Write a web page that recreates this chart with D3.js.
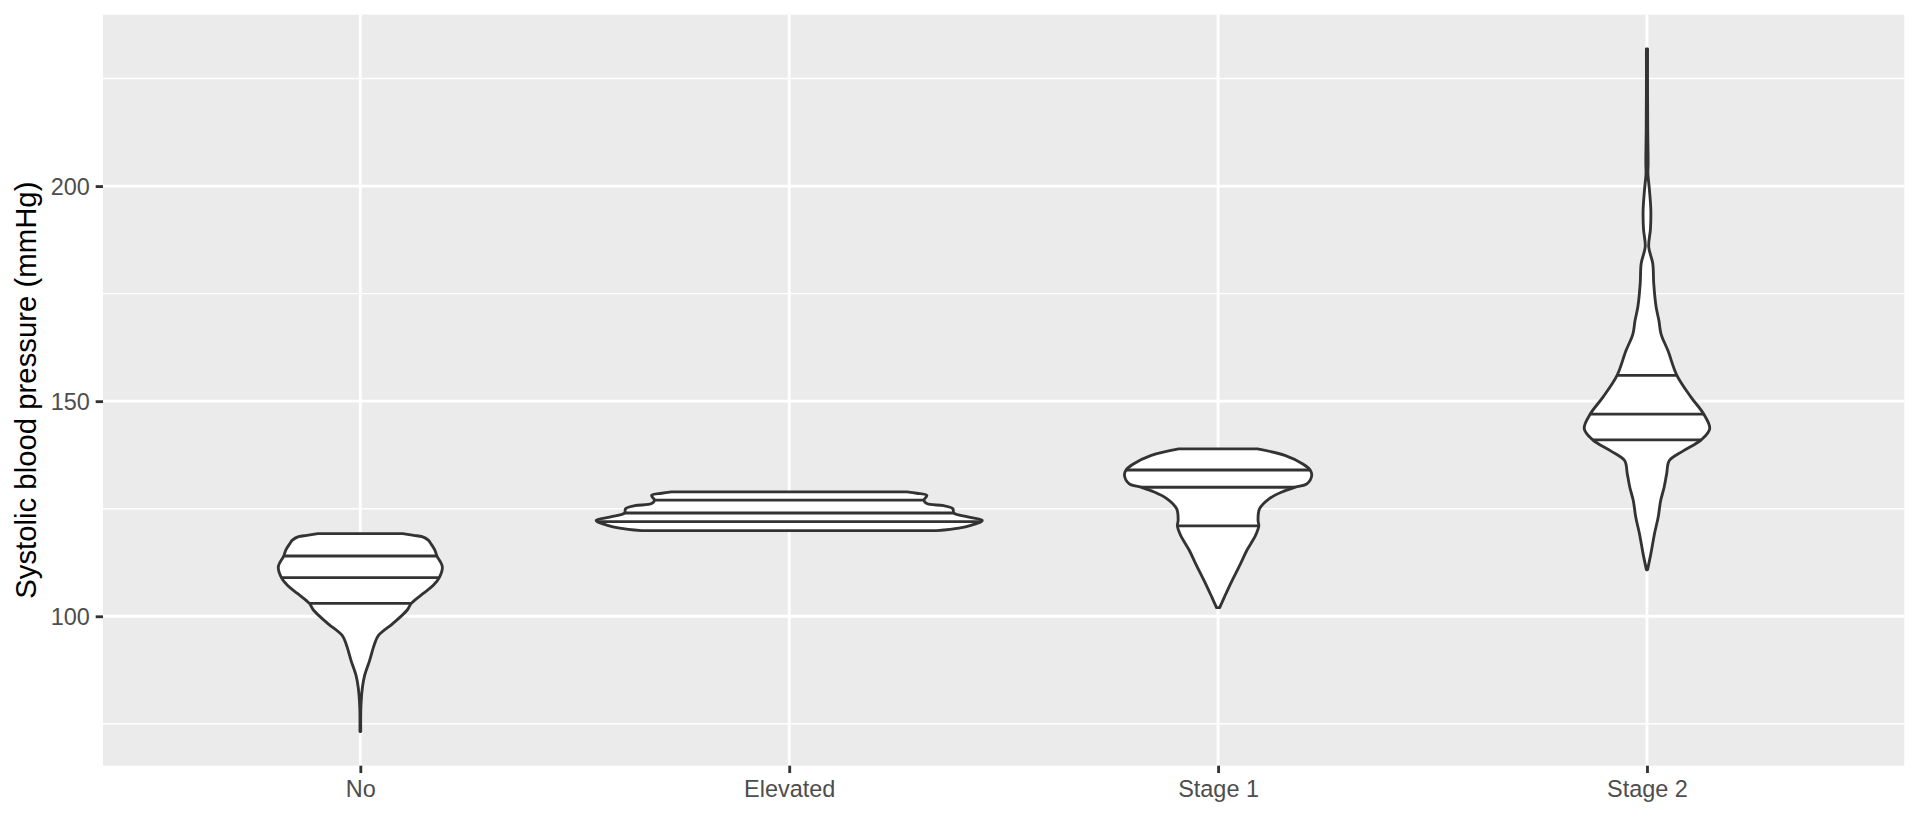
<!DOCTYPE html>
<html>
<head>
<meta charset="utf-8">
<script src="https://cdn.jsdelivr.net/npm/d3@7"></script>
<style>
  html, body { margin: 0; padding: 0; background: #ffffff; }
  svg { display: block; }
</style>
</head>
<body>
<svg id="chart" width="1920" height="816"></svg>
<script>
// ---------- data ----------
const categories = ["No", "Elevated", "Stage 1", "Stage 2"];

const noValues  = [73.2, 78.9, 83.5, 86.2, 89.7, 93.6, 95.6, 98.3, 101.4, 103, 105.3, 107.2, 109, 111.5, 114, 115.5, 117.1, 117.7, 118.5, 118.8, 119.2];
const noDensity = [0.002, 0.003, 0.011, 0.022, 0.048, 0.074, 0.095, 0.168, 0.242, 0.264, 0.326, 0.378, 0.409, 0.425, 0.397, 0.385, 0.362, 0.352, 0.320, 0.277, 0.220];
const noQuantiles = [103, 109, 114];

const elevatedValues  = [119.9, 120.5, 121.2, 122, 122.3, 123.1, 124, 125, 125.7, 126.2, 127, 128.1, 128.6, 128.9];
const elevatedDensity = [0.765, 0.879, 0.946, 0.995, 1.0, 0.925, 0.853, 0.848, 0.80, 0.713, 0.698, 0.713, 0.661, 0.61];
const elevatedQuantiles = [122, 124, 127];

const stage1Values  = [102, 104.5, 107.6, 112.2, 115.4, 118.8, 121, 122.3, 125, 127.3, 128.9, 130, 130.8, 132.7, 134, 135.4, 137.4, 138.9];
const stage1Density = [0.008, 0.033, 0.065, 0.116, 0.150, 0.194, 0.211, 0.207, 0.215, 0.264, 0.331, 0.40, 0.46, 0.485, 0.477, 0.439, 0.346, 0.204];
const stage1Quantiles = [121, 130, 134];

const stage2Values  = [110.8, 114.5, 119.2, 123, 126.9, 130, 133.1, 136.2, 138.5, 141, 143.6, 147, 151, 156, 161.7, 165.6, 168.7, 172, 177.4, 182, 185.9, 190, 194.4, 199, 202.9, 205.3, 213, 222, 231.9];
const stage2Density = [0.003, 0.020, 0.039, 0.058, 0.071, 0.089, 0.102, 0.116, 0.190, 0.281, 0.325, 0.294, 0.227, 0.155, 0.109, 0.073, 0.062, 0.047, 0.035, 0.030, 0.009, 0.018, 0.020, 0.013, 0.005, 0.006, 0.004, 0.003, 0.003];
const stage2Quantiles = [141, 147, 156];

const yMajorTicks = [100, 150, 200];
const yMinorTicks = [75, 125, 175, 225];
const yTitle = "Systolic blood pressure (mmHg)";

// ---------- build groups ----------
const groups = [
  { name: categories[0], values: noValues, density: noDensity, quantiles: noQuantiles },
  { name: categories[1], values: elevatedValues, density: elevatedDensity, quantiles: elevatedQuantiles },
  { name: categories[2], values: stage1Values, density: stage1Density, quantiles: stage1Quantiles },
  { name: categories[3], values: stage2Values, density: stage2Density, quantiles: stage2Quantiles }
];

// ---------- layout ----------
const panel = { left: 103, right: 1904.3, top: 14.7, bottom: 765.7 };
const px = 192 / 72;              // points -> pixels
const lineW = 0.5 * 72.27 / 25.4 / 96 * 192; // ggplot linewidth 0.5

const svg = d3.select("#chart");

const allVals = groups.flatMap(g => g.values);
const [vmin, vmax] = d3.extent(allVals);
const pad = (vmax - vmin) * 0.05;

const y = d3.scaleLinear().domain([vmin - pad, vmax + pad]).range([panel.bottom, panel.top]);
const x = d3.scalePoint().domain(categories).range([panel.left, panel.right]).padding(0.6);
const w = d3.scaleLinear().domain([0, 1]).range([0, x.step() * 0.45]);

// panel background
svg.append("rect")
  .attr("x", panel.left).attr("y", panel.top)
  .attr("width", panel.right - panel.left).attr("height", panel.bottom - panel.top)
  .attr("fill", "#EBEBEB");

// grid lines
const grid = svg.append("g");
grid.selectAll("line.minor").data(yMinorTicks).join("line")
  .attr("class", "minor")
  .attr("x1", panel.left).attr("x2", panel.right)
  .attr("y1", d => y(d)).attr("y2", d => y(d))
  .attr("stroke", "#ffffff").attr("stroke-width", lineW / 2);
grid.selectAll("line.majory").data(yMajorTicks).join("line")
  .attr("class", "majory")
  .attr("x1", panel.left).attr("x2", panel.right)
  .attr("y1", d => y(d)).attr("y2", d => y(d))
  .attr("stroke", "#ffffff").attr("stroke-width", lineW);
grid.selectAll("line.majorx").data(categories).join("line")
  .attr("class", "majorx")
  .attr("y1", panel.top).attr("y2", panel.bottom)
  .attr("x1", d => x(d)).attr("x2", d => x(d))
  .attr("stroke", "#ffffff").attr("stroke-width", lineW);

// violins
function widthAt(g, q) {
  const vs = g.values, ds = g.density;
  for (let i = 0; i < vs.length - 1; i++) {
    if (q >= vs[i] && q <= vs[i + 1]) {
      const t = (q - vs[i]) / (vs[i + 1] - vs[i]);
      return ds[i] + t * (ds[i + 1] - ds[i]);
    }
  }
  return 0;
}

const violins = svg.append("g");
groups.forEach(g => {
  const cx = x(g.name);
  const pts = g.values.map((v, i) => ({ v, d: g.density[i] }));
  const area = d3.area()
    .curve(d3.curveCatmullRom.alpha(0.5))
    .y(d => y(d.v))
    .x0(d => cx - w(d.d))
    .x1(d => cx + w(d.d));
  violins.append("path")
    .attr("d", area(pts))
    .attr("fill", "#ffffff")
    .attr("stroke", "#333333")
    .attr("stroke-width", lineW)
    .attr("stroke-linejoin", "round");
  violins.selectAll(null).data(g.quantiles).join("line")
    .attr("x1", q => cx - w(widthAt(g, q)))
    .attr("x2", q => cx + w(widthAt(g, q)))
    .attr("y1", q => y(q)).attr("y2", q => y(q))
    .attr("stroke", "#333333")
    .attr("stroke-width", lineW);
});

// axes
const tickLen = 2.75 * px;
const tickPad = 2.2 * px;
const fontTick = 8.8 * px;

const yAxis = svg.append("g")
  .attr("transform", `translate(${panel.left},0)`)
  .call(d3.axisLeft(y).tickValues(yMajorTicks).tickSize(tickLen).tickPadding(tickPad).tickFormat(d3.format("d")));
yAxis.select(".domain").remove();
yAxis.selectAll(".tick line").attr("stroke", "#333333").attr("stroke-width", lineW);
yAxis.selectAll(".tick text")
  .attr("fill", "#4D4D4D")
  .attr("font-family", "'Liberation Sans', Arial, Helvetica, sans-serif")
  .attr("font-size", fontTick)
  .attr("dy", "0.36em");

const xAxis = svg.append("g")
  .attr("transform", `translate(0,${panel.bottom})`)
  .call(d3.axisBottom(x).tickSize(tickLen).tickPadding(tickPad));
xAxis.select(".domain").remove();
xAxis.selectAll(".tick line").attr("stroke", "#333333").attr("stroke-width", lineW);
xAxis.selectAll(".tick text")
  .attr("fill", "#4D4D4D")
  .attr("font-family", "'Liberation Sans', Arial, Helvetica, sans-serif")
  .attr("font-size", fontTick)
  .attr("dy", "0.77em");

// y-axis title
svg.append("text")
  .attr("transform", `translate(36,${(panel.top + panel.bottom) / 2}) rotate(-90)`)
  .attr("text-anchor", "middle")
  .attr("fill", "#000000")
  .attr("font-family", "'Liberation Sans', Arial, Helvetica, sans-serif")
  .attr("font-size", 11 * px)
  .text(yTitle);
</script>
</body>
</html>
